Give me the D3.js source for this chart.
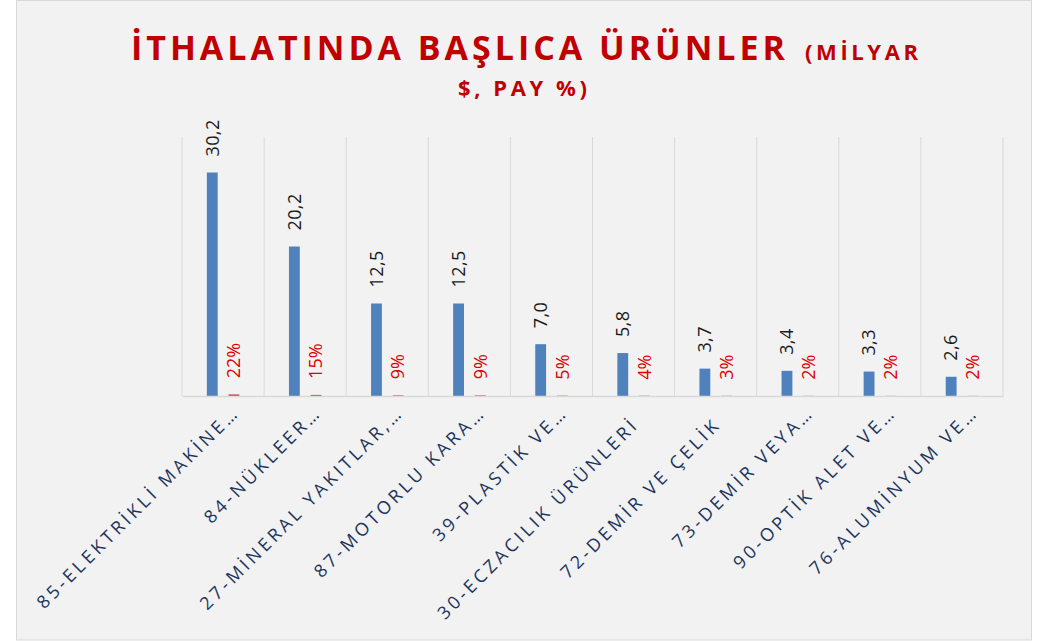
<!DOCTYPE html>
<html>
<head>
<meta charset="utf-8">
<script src="https://cdn.jsdelivr.net/npm/d3@7"></script>
<style>
  html, body { margin: 0; padding: 0; background: #ffffff; }
  svg { display: block; }
  text { font-family: "Open Sans", "Noto Sans", sans-serif; }
</style>
</head>
<body>
<svg id="chart" width="1056" height="641"></svg>
<script>
const categories = [
  "85-ELEKTRİKLİ MAKİNE…",
  "84-NÜKLEER…",
  "27-MİNERAL YAKITLAR,…",
  "87-MOTORLU KARA…",
  "39-PLASTİK VE…",
  "30-ECZACILIK ÜRÜNLERİ",
  "72-DEMİR VE ÇELİK",
  "73-DEMİR VEYA…",
  "90-OPTİK ALET VE…",
  "76-ALUMİNYUM VE…"
];
const values = [30.2, 20.2, 12.5, 12.5, 7.0, 5.8, 3.7, 3.4, 3.3, 2.6];
const shares = [22, 15, 9, 9, 5, 4, 3, 2, 2, 2];
const seriesKeys = ["value", "share"];
const titleMain = "İTHALATINDA BAŞLICA ÜRÜNLER";
const titleSub1 = "(MİLYAR";
const titleSub2 = "$, PAY %)";

const svg = d3.select("#chart");
const plot = { left: 182, right: 1003, top: 137, bottom: 396 };

// chart area background + border
svg.append("rect")
  .attr("x", 16.5).attr("y", 0.5)
  .attr("width", 1015).attr("height", 639.5)
  .attr("fill", "#f2f2f2").attr("stroke", "#d9d9d9").attr("stroke-width", 1);

// title
const titleColor = "#c00000";
svg.append("text")
  .attr("x", 131).attr("y", 59.5)
  .attr("font-size", 34).attr("font-weight", 700)
  .attr("fill", titleColor)
  .attr("textLength", 654).attr("lengthAdjust", "spacing")
  .text(titleMain);
svg.append("text")
  .attr("x", 805).attr("y", 60)
  .attr("font-size", 22).attr("font-weight", 700)
  .attr("fill", titleColor)
  .attr("textLength", 113).attr("lengthAdjust", "spacing")
  .text(titleSub1);
svg.append("text")
  .attr("x", 458).attr("y", 96)
  .attr("font-size", 22).attr("font-weight", 700)
  .attr("fill", titleColor)
  .attr("textLength", 129).attr("lengthAdjust", "spacing")
  .text(titleSub2);

// scales
const x0 = d3.scaleBand().domain(categories).range([plot.left, plot.right]).paddingInner(0).paddingOuter(0);
const x1 = d3.scaleBand().domain(seriesKeys).range([0, 32.5]).paddingInner(0.5).paddingOuter(0);
const y = d3.scaleLinear().domain([0, 35]).range([plot.bottom, plot.top]);

// vertical gridlines at category boundaries
const bounds = categories.map(c => x0(c)).concat([x0.range()[1]]);
svg.append("g").selectAll("line").data(bounds).join("line")
  .attr("x1", d => d).attr("x2", d => d)
  .attr("y1", y(35)).attr("y2", y(0))
  .attr("stroke", "#d9d9d9").attr("stroke-width", 1);

// data rows
const rows = categories.map((c, i) => ({ cat: c, value: values[i], share: shares[i] }));
const groupOffset = x0.bandwidth() / 2 - 16.2;

const colors = { value: "#4f81bd", share: "#c0504d" };
const groups = svg.append("g").selectAll("g").data(rows).join("g")
  .attr("transform", d => `translate(${x0(d.cat) + groupOffset},0)`);

groups.selectAll("rect").data(d => [
    { key: "value", v: d.value },
    { key: "share", v: d.share / 100 }
  ]).join("rect")
  .attr("x", d => x1(d.key))
  .attr("width", x1.bandwidth())
  .attr("y", d => y(d.v))
  .attr("height", d => y(0) - y(d.v))
  .attr("fill", d => colors[d.key]);

// value labels (rotated)
const fmt = d3.format(".1f");
groups.append("text")
  .attr("transform", d => `translate(${x1("value") + x1.bandwidth() / 2},${y(d.value) - 16}) rotate(-90)`)
  .attr("dy", "0.35em")
  .attr("font-size", 18)
  .attr("letter-spacing", 0.4)
  .attr("fill", "#1a1a1a")
  .text(d => fmt(d.value).replace(".", ","));

groups.append("text")
  .attr("transform", d => `translate(${x1("share") + x1.bandwidth() / 2},${y(d.share / 100) - 16}) rotate(-90)`)
  .attr("dy", "0.35em")
  .attr("font-size", 18)
  .attr("fill", "#e00000")
  .text(d => d.share + "%");

// category axis
const axis = d3.axisBottom(x0).tickSize(0).tickSizeOuter(0);
const gx = svg.append("g")
  .attr("transform", `translate(0,${plot.bottom})`)
  .call(axis);
gx.select(".domain").attr("stroke", "#d9d9d9").attr("stroke-width", 1.5);
const lsp = 3.5;
gx.selectAll(".tick text")
  .attr("x", 0).attr("y", 0).attr("dy", null)
  .attr("text-anchor", "end")
  .attr("font-size", 18)
  .attr("font-family", "'Open Sans', 'Noto Sans', sans-serif")
  .attr("letter-spacing", lsp)
  .attr("fill", "#1c355e")
  .attr("transform", d => {
    const truncated = d.endsWith("…");
    return truncated ? "translate(15,20) rotate(-45)" : "translate(4,32) rotate(-45)";
  })
  .attr("dx", lsp);
</script>
</body>
</html>
